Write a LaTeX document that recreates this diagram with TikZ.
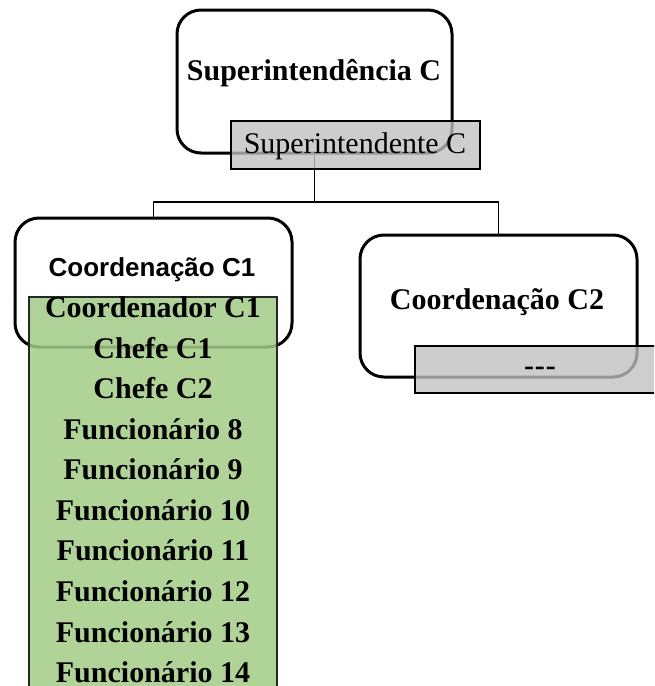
\documentclass[tikz,border=0pt]{standalone}
\usepackage{fontspec}
\setmainfont{Liberation Serif}
\newfontfamily\sansb{Liberation Sans}
\definecolor{lblgray}{RGB}{192,192,192}
\definecolor{lblgreen}{RGB}{162,203,134}
\tikzset{
  orgbox/.style={draw=black, line width=3pt, rounded corners=24pt, fill=white, inner sep=0pt},
  graylbl/.style={draw=black, line width=1.7pt, fill=lblgray, fill opacity=0.78, text opacity=1, inner sep=0pt},
  greenlbl/.style={draw=black!85, line width=1.5pt, fill=lblgreen, fill opacity=0.85, inner sep=0pt},
  conn/.style={draw=black, line width=1.8pt},
  bt/.style={font=\fontsize{30}{34}\selectfont\bfseries, inner sep=0pt},
  rt/.style={font=\fontsize{30}{34}\selectfont, inner sep=0pt},
  st/.style={font=\fontsize{26}{30}\selectfont\sansb\bfseries, inner sep=0pt}
}
\begin{document}
\begin{tikzpicture}[x=1pt,y=-1pt]
\useasboundingbox (0,0) rectangle (654,686);
\clip (0,0) rectangle (654,686);
% boxes
\node[orgbox, minimum width=275pt, minimum height=143pt] (sup) at (314.5,81.5) {};
\node[orgbox, minimum width=277pt, minimum height=129pt] (c1) at (153.5,282.5) {};
\node[orgbox, minimum width=277pt, minimum height=142pt] (c2) at (498.5,306) {};
% connectors
\coordinate (bus) at (314.5,202);
\draw[conn] (sup.south) -- (bus);
\draw[conn] (c1.north) |- (bus) -| (c2.north);
% titles
\node[bt] (supt) at (314,73) {Superintendência C};
\node[st] (c1t) at (152,270) {Coordenação C1};
\node[bt] (c2t) at (497,302) {Coordenação C2};
% labels
\node[graylbl, minimum width=249pt, minimum height=48pt] (supl) at (355.5,145) {};
\node[rt] (suplt) at (355,146) {Superintendente C};
\node[graylbl, minimum width=249pt, minimum height=47pt] (c2l) at (539.5,369.5) {};
\node[bt] (c2lt) at (540,371) {{-}\kern1pt{-}\kern1pt{-}};
\node[greenlbl, minimum width=248pt, minimum height=420pt, anchor=north] (c1l) at (153,296) {};
\foreach \t [count=\i] in {Coordenador C1, Chefe C1, Chefe C2, Funcionário 8, Funcionário 9, Funcionário 10, Funcionário 11, Funcionário 12, Funcionário 13, Funcionário 14}{
  \node[bt] (g\i) at (153,{307+40.6*(\i-1)}) {\t};
}
\end{tikzpicture}
\end{document}
